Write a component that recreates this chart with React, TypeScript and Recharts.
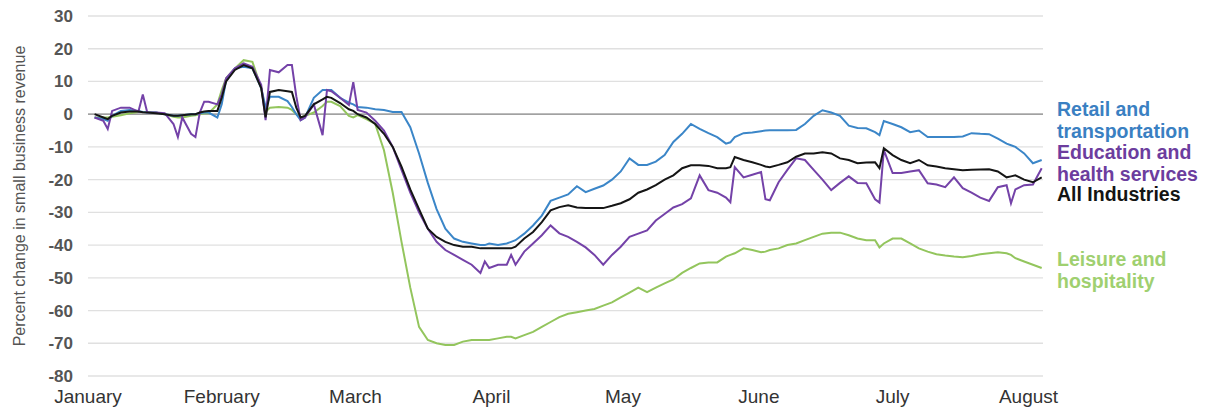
import React from 'react';
import { LineChart, Line, XAxis, YAxis, CartesianGrid, ReferenceLine } from 'recharts';

// Day index counted from January 1 (day 0)
const days = [
  0, 2, 3, 4, 6, 8, 10, 11, 12, 14, 16, 18, 19, 20, 22, 23, 24, 25, 26, 28, 29, 30, 32, 34, 36, 38, 39,
  40, 42, 44, 45, 46, 47, 48, 50, 52, 53, 54, 56, 58, 59, 60, 62, 64, 66, 68, 70, 72, 74, 76, 78, 80,
  82, 84, 86, 88, 89, 90, 92, 94, 95, 96, 98, 100, 102, 104, 106, 108, 110, 112, 114, 116, 118, 120,
  122, 124, 126, 128, 130, 132, 134, 136, 138, 140, 142, 144, 145, 146, 148, 150, 152, 153, 154, 156,
  158, 160, 162, 164, 166, 168, 170, 172, 174, 176, 178, 179, 180, 182, 184, 186, 188, 190, 192, 194,
  196, 198, 200, 202, 204, 206, 208, 209, 210, 212, 214, 216,
];

const retail = [
  -1, -1.5, -2, -0.5, 1, 1.3, 1, 0.7, 0.5, 0.5, 0, -0.5, -0.5, -0.3, 0, 0, 0.3, 0.5, 0.5, -1, 3, 10.4, 14, 14.5, 14, 8, 2.2,
  5.3, 5.3, 4, 2.2, 0, -1.8, -1, 5, 7.4, 7.4, 7.4, 5, 3.5, 3, 2.2, 2, 1.5, 1.3, 0.7, 0.7, -4, -12, -21, -29, -35,
  -38, -39, -39.5, -40, -40, -39.5, -40, -39.5, -39, -38.5, -36.5, -34, -31, -26.5, -25.5, -24.5, -22, -23.8, -22.8, -21.8, -20, -17.5,
  -13.5, -15.5, -15.5, -14.5, -12.5, -8.5, -6, -3, -4.5, -5.8, -7, -9, -8.6, -7, -5.8, -5.6, -5.2, -5, -4.9, -4.9,
  -4.9, -4.8, -3, -0.5, 1.2, 0.5, -0.5, -3.5, -4.2, -4.3, -5.5, -6.4, -2.1, -3, -4, -5.5, -5, -7, -7, -7,
  -7, -6.8, -5.8, -6, -6.1, -7.5, -9, -9.5, -10, -12, -15, -14,
];

const education = [
  -1, -2, -4.5, 1, 2, 2, 0.8, 6, 0.6, 0.5, 0.3, -3, -7, -1, -6, -7, 0.5, 3.8, 3.8, 3, 6, 11, 14, 15.5, 14.5, 9, -1.8,
  13.5, 12.8, 15, 15, 5.5, -1.8, -1, 3, -6.4, 7.4, 7, 5, 2.8, 9.8, 1.3, 0.5, -2, -5, -10, -17, -24, -30, -35, -39, -41.5,
  -43, -44.5, -46, -48.5, -45, -47, -46, -46, -43, -46, -42, -39.5, -37, -34, -36.4, -37.5, -39, -40.7, -43, -46, -43, -40.5,
  -37.5, -36.5, -35.5, -32.5, -30.5, -28.5, -27.5, -25.7, -18.7, -23.2, -24, -25.5, -26.9, -16.2, -19.3, -18.5, -17.7, -26, -26.3, -20.8,
  -17, -13.5, -14, -17, -20, -23.2, -21, -19, -21, -21.1, -26, -27, -11, -18, -18, -17.5, -17.1, -21.1, -21.5, -22.3,
  -19.3, -22.6, -24, -25.5, -26.5, -22.3, -21.7, -27.2, -23, -21.7, -21.5, -16.5,
];

const allIndustries = [
  0, -1, -1.5, -0.5, 0.5, 0.8, 0.8, 0.6, 0.5, 0.3, 0, -0.5, -0.5, -0.3, 0, 0, 0.5, 0.8, 1, 1, 5, 10, 13.5, 15, 14, 8, -1,
  6.8, 7.4, 7, 6.8, 2, -1, -0.5, 3, 4.5, 5.3, 5, 3.4, 1.5, 1, 0, -1, -3, -6, -10, -16, -23, -29, -35, -37.5, -39,
  -40, -40.5, -40.5, -41, -41, -41, -41, -41, -41, -40.5, -38, -36, -33, -29.4, -28.4, -27.8, -28.5, -28.7, -28.7, -28.7, -28, -27.2,
  -26, -24, -23, -21.7, -20, -18.7, -16.5, -15.6, -15.6, -15.8, -16.5, -16.5, -16.2, -13.1, -14, -14.7, -15.5, -16, -16.2, -15.5,
  -14.7, -13, -12, -12, -11.6, -12, -13.5, -14, -15, -14.8, -14.7, -16.5, -10.4, -12.5, -14, -15, -14, -15.6, -16, -16.5,
  -16.8, -17.1, -17, -16.9, -16.8, -17.5, -19.3, -19, -18.7, -20, -20.8, -19.3,
];

const leisure = [
  -1, -1, -1, -0.8, -0.3, 0.3, 0.7, 0.7, 0.7, 0.5, 0, -0.8, -1, -1, -0.5, -0.3, 0, 0.3, 0.3, 3, 7.4, 11, 14, 16.5, 16, 8, 0.7,
  2, 2.2, 2, 1.3, 0, -1, -0.5, 0.5, 2.5, 3.8, 3.8, 2.5, -0.5, -1, -0.3, -1.5, -3, -11, -24, -39, -53, -65, -69, -70, -70.5,
  -70.5, -69.5, -69, -69, -69, -69, -68.5, -68, -68, -68.5, -67.5, -66.5, -65, -63.5, -62, -61, -60.5, -60, -59.5, -58.5, -57.5, -56,
  -54.5, -53, -54.4, -53, -51.7, -50.5, -48.5, -47, -45.6, -45.3, -45.3, -43.5, -43, -42.5, -41, -41.5, -42.2, -42, -41.5, -41,
  -40, -39.5, -38.5, -37.5, -36.5, -36.2, -36.2, -37, -38, -38.5, -38.5, -40.7, -39.5, -38, -38, -39.5, -41, -42, -42.8, -43.2,
  -43.5, -43.7, -43.3, -42.8, -42.5, -42.2, -42.5, -43, -44, -45, -46, -47,
];

const monthTicks = [-1.5, 29, 59.5, 90.5, 120.5, 151.5, 182, 213];
const monthLabels = ['January', 'February', 'March', 'April', 'May', 'June', 'July', 'August'];
const yTicks = [-80, -70, -60, -50, -40, -30, -20, -10, 0, 10, 20, 30];

const seriesColors = {
  retail: '#3b86c8',
  education: '#7442a8',
  allIndustries: '#151515',
  leisure: '#93c55d',
};

const data = days.map((d, i) => ({
  day: d,
  retail: retail[i],
  education: education[i],
  allIndustries: allIndustries[i],
  leisure: leisure[i],
}));

const legendBlocks = [
  { lines: ['Retail and', 'transportation'], color: '#3a80c2', top: 91 },
  { lines: ['Education and', 'health services'], color: '#6c3d9e', top: 134 },
  { lines: ['All Industries'], color: '#141414', top: 176 },
  { lines: ['Leisure and', 'hospitality'], color: '#9fd070', top: 241 },
];

const YLabel = (props: any) => {
  const vb = props.viewBox || { y: 8, height: 360 };
  const cy = vb.y + vb.height / 2;
  const cx = 11;
  return (
    <text
      x={cx}
      y={cy}
      transform={`rotate(-90, ${cx}, ${cy})`}
      textAnchor="middle"
      dominantBaseline="central"
      fontFamily="'Liberation Sans', Arial, sans-serif"
      fontSize={16}
      fill="#555"
    >
      Percent change in small business revenue
    </text>
  );
};

export default function App() {
  return (
    <div style={{ position: 'relative', width: 1203, height: 404 }}>
      <LineChart
        width={1203}
        height={404}
        data={data}
        margin={{ top: 8, right: 168, bottom: 0, left: 0 }}
        style={{ overflow: 'visible' }}
      >
        <CartesianGrid horizontal vertical={false} stroke="#e0e0e0" strokeWidth={1.3} />
        <XAxis
          type="number"
          dataKey="day"
          domain={[-1.5, 216.3]}
          ticks={monthTicks}
          interval={0}
          tickFormatter={(v: number) => monthLabels[monthTicks.indexOf(v)]}
          axisLine={false}
          tickLine={false}
          tickSize={0}
          tickMargin={14}
          height={36}
          tick={{ fontFamily: "'Liberation Sans', Arial, sans-serif", fontSize: 19, fill: '#333' }}
        />
        <YAxis
          type="number"
          domain={[-80, 30]}
          ticks={yTicks}
          interval={0}
          width={80}
          axisLine={false}
          tickLine={false}
          tickSize={0}
          tickMargin={15}
          tick={{ fontFamily: "'Liberation Sans', Arial, sans-serif", fontSize: 17, fontWeight: 700, fill: '#555' }}
          label={<YLabel />}
        />
        <ReferenceLine y={0} stroke="#8a8a8a" strokeWidth={1.2} />
        <Line type="linear" dataKey="leisure" stroke={seriesColors.leisure} strokeWidth={2} dot={false} isAnimationActive={false} />
        <Line type="linear" dataKey="retail" stroke={seriesColors.retail} strokeWidth={2} dot={false} isAnimationActive={false} />
        <Line type="linear" dataKey="education" stroke={seriesColors.education} strokeWidth={2} dot={false} isAnimationActive={false} />
        <Line type="linear" dataKey="allIndustries" stroke={seriesColors.allIndustries} strokeWidth={2} dot={false} isAnimationActive={false} />
      </LineChart>
      {legendBlocks.map((b) => (
        <div
          key={b.lines[0]}
          style={{
            position: 'absolute',
            left: 1049,
            top: b.top,
            color: b.color,
            fontFamily: "'Liberation Sans', Arial, sans-serif",
            fontWeight: 700,
            fontSize: 19.5,
            lineHeight: '21.5px',
            whiteSpace: 'nowrap',
          }}
        >
          {b.lines.map((l) => (
            <div key={l}>{l}</div>
          ))}
        </div>
      ))}
    </div>
  );
}
